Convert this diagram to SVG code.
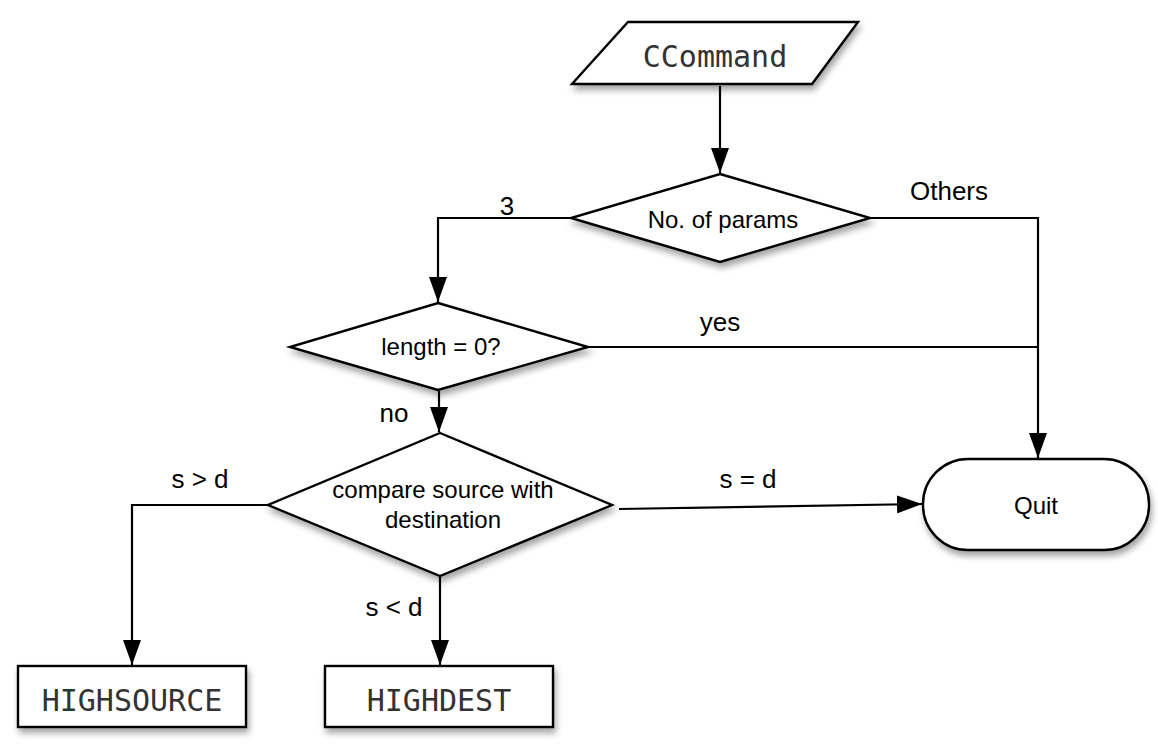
<svg xmlns="http://www.w3.org/2000/svg" width="1158" height="744" viewBox="0 0 1158 744">
<style>
  .shape { fill: #ffffff; stroke: #000000; stroke-width: 2.4; filter: url(#shadow); }
  .conn { fill: none; stroke: #000000; stroke-width: 2.2; }
  .sans { font-family: "Liberation Sans", Arial, sans-serif; fill: #000000; text-anchor: middle; }
  .node { font-size: 24px; }
  .label { font-size: 26px; }
  .mono { font-family: "DejaVu Sans Mono", "Liberation Mono", monospace; font-size: 30px; fill: #333333; text-anchor: middle; }
</style>
<defs>
  <filter id="shadow" x="-20%" y="-20%" width="140%" height="150%">
    <feDropShadow dx="2" dy="5" stdDeviation="3" flood-color="#000000" flood-opacity="0.35"/>
  </filter>
  <marker id="arrow" viewBox="0 0 25 18" refX="25" refY="9" markerWidth="25" markerHeight="18" markerUnits="userSpaceOnUse" orient="auto">
    <path d="M0,0 L25,9 L0,18 Z" fill="#000000"/>
  </marker>
</defs>
<rect width="1158" height="744" fill="#ffffff"/>

<g id="connectors">
  <path class="conn" d="M720,86 L720,173" marker-end="url(#arrow)"/>
  <path class="conn" d="M571,218 L438,218 L438,302" marker-end="url(#arrow)"/>
  <path class="conn" d="M870,218 L1038,218 L1038,458" marker-end="url(#arrow)"/>
  <path class="conn" d="M588,347 L1038,347"/>
  <path class="conn" d="M439,391 L439,432" marker-end="url(#arrow)"/>
  <path class="conn" d="M267,505 L132,505 L132,665" marker-end="url(#arrow)"/>
  <path class="conn" d="M440,577 L440,665" marker-end="url(#arrow)"/>
  <path class="conn" d="M619,509 L922,504" marker-end="url(#arrow)"/>
</g>

<g id="labels">
  <text class="sans label" x="507" y="215">3</text>
  <text class="sans label" x="949" y="200">Others</text>
  <text class="sans label" x="720" y="331">yes</text>
  <text class="sans label" x="394" y="422">no</text>
  <text class="sans label" x="200" y="488">s &gt; d</text>
  <text class="sans label" x="748" y="488">s = d</text>
  <text class="sans label" x="394" y="616">s &lt; d</text>
</g>

<g id="ccommand">
  <polygon class="shape" points="628,22 858,22 812,84 572,84"/>
  <text class="mono" x="715" y="67">CCommand</text>
</g>

<g id="num-params">
  <polygon class="shape" points="720,174 870,218 720,262 571,218"/>
  <text class="sans node" x="723" y="228">No. of params</text>
</g>

<g id="length-zero">
  <polygon class="shape" points="438,303 588,347 438,390 290,347"/>
  <text class="sans node" x="441" y="355">length = 0?</text>
</g>

<g id="compare">
  <polygon class="shape" points="440,433 612,505 440,576 268,505"/>
  <text class="sans node" x="443" y="498">compare source with</text>
  <text class="sans node" x="443" y="528">destination</text>
</g>

<g id="quit">
  <rect class="shape" x="923" y="459" width="226" height="91" rx="45" ry="45"/>
  <text class="sans node" x="1036" y="514">Quit</text>
</g>

<g id="highsource">
  <rect class="shape" x="18" y="666" width="228" height="61"/>
  <text class="mono" x="132" y="711">HIGHSOURCE</text>
</g>

<g id="highdest">
  <rect class="shape" x="325" y="666" width="228" height="61"/>
  <text class="mono" x="439" y="711">HIGHDEST</text>
</g>
</svg>
